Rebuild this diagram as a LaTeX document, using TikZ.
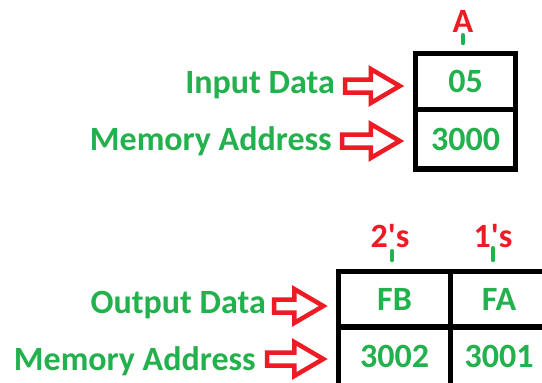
\documentclass[tikz,border=0pt]{standalone}
\usepackage{fontspec}
\newfontfamily\calfont{Carlito}
\usetikzlibrary{calc}

\definecolor{pgreen}{HTML}{22B14C}
\definecolor{pred}{HTML}{ED1C24}

\tikzset{
  txt/.style={font=\calfont\bfseries\fontsize{34}{37}\selectfont},
  lbl/.style={txt, text=pgreen, inner sep=0pt, anchor=base east},
  tag/.style={txt, text=pred, inner sep=0pt, anchor=base},
  cell/.style={txt, text=pgreen, draw=black, line width=5.5pt, inner sep=0pt, anchor=center},
  tick/.style={draw=pgreen, line width=4pt, line cap=round},
  blockarrow/.style={draw=pred, fill=white, line width=4.5pt, line join=miter}
}

% hollow block arrow from a tail point to a tip point (tip sets the height)
\newcommand{\hollowarrow}[2]{%
  \draw[blockarrow] let \p1=(#1), \p2=(#2) in
    (\x1,\y2+6.5pt) -- (\x2-29pt,\y2+6.5pt) -- (\x2-29pt,\y2+17pt) -- (\x2,\y2)
    -- (\x2-29pt,\y2-17pt) -- (\x2-29pt,\y2-6.5pt) -- (\x1,\y2-6.5pt) -- cycle;}

\begin{document}
\begin{tikzpicture}[x=1pt,y=-1pt]
  \useasboundingbox (0,0) rectangle (542,383);
  \fill[white] (0,0) rectangle (542,383);
  \clip (0,0) rectangle (542,383);

  % upper memory cell
  \node[cell, minimum width=100pt, minimum height=56pt]   (d05)   at (465.5,81.5)   {05};
  \node[cell, minimum width=100pt, minimum height=59.5pt] (a3000) at (465.5,139.25) {3000};
  \node[tag] (A) at (463,32) {A};
  \draw[tick] ([yshift=-3pt]A.base) -- ([yshift=7.5pt]A.base |- d05.north);

  \node[lbl] (inlbl)  at (335,93)  {Input Data};
  \node[lbl] (addr1)  at (332,150) {Memory Address};
  \hollowarrow{[xshift=10pt]inlbl.east}{[xshift=-13pt,yshift=-4.5pt]d05.west}
  \hollowarrow{[xshift=10pt]addr1.east}{[xshift=-13pt,yshift=-1.75pt]a3000.west}

  % lower memory cells
  \node[cell, minimum width=112pt, minimum height=55.5pt] (fb)    at (394.5,299.25) {FB};
  \node[cell, minimum width=97pt,  minimum height=55.5pt] (fa)    at (499,299.25)   {FA};
  \node[cell, minimum width=112pt, minimum height=59pt]   (a3002) at (394.5,356.5)  {3002};
  \node[cell, minimum width=97pt,  minimum height=59pt]   (a3001) at (499,356.5)    {3001};

  \node[tag] (two) at (390,247) {2's};
  \node[tag] (one) at (493,247) {1's};
  \draw[tick] ([yshift=-4pt]two.base -| fb.north) ++(-2.5pt,0) -- ([xshift=-2.5pt,yshift=8.5pt]fb.north);
  \draw[tick] ([yshift=-1pt]one.base) -- ([yshift=8.5pt]one.base |- fa.north);

  \node[lbl] (outlbl) at (266,313) {Output Data};
  \node[lbl] (addr2)  at (256,370) {Memory Address};
  \hollowarrow{[xshift=8pt]outlbl.east}{[xshift=-12.5pt,yshift=-6.75pt]fb.west}
  \hollowarrow{[xshift=11pt]addr2.east}{[xshift=-12.5pt,yshift=-2.5pt]a3002.west}
\end{tikzpicture}
\end{document}
